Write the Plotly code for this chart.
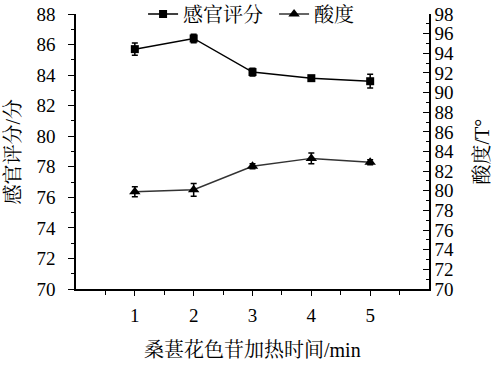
import plotly.graph_objects as go

# Data
heat_time = [1, 2, 3, 4, 5]
sensory_score = [85.7, 86.4, 84.2, 83.8, 83.6]
sensory_err = [0.4, 0.28, 0.25, 0.1, 0.45]
acidity = [79.9, 80.1, 82.5, 83.3, 82.9]
acidity_err = [0.5, 0.65, 0.25, 0.55, 0.25]

x_ticks = [1, 2, 3, 4, 5]
x_minor = [0.5, 1.5, 2.5, 3.5, 4.5, 5.5]

FONT = "Times New Roman, Liberation Serif, Noto Serif CJK SC, Noto Sans CJK SC, serif"

fig = go.Figure()
fig.add_trace(go.Scatter(
    x=heat_time, y=sensory_score, name="感官评分", mode="lines+markers",
    marker=dict(symbol="square", size=8, color="black"),
    line=dict(color="black", width=1.5),
    error_y=dict(type="data", array=sensory_err, color="black", thickness=1.5, width=3),
))
fig.add_trace(go.Scatter(
    x=heat_time, y=acidity, name="酸度", mode="lines+markers", yaxis="y2",
    marker=dict(symbol="triangle-up", size=10, color="black"),
    line=dict(color="#333333", width=1.5),
    error_y=dict(type="data", array=acidity_err, color="black", thickness=1.5, width=3),
))

axis_common = dict(showgrid=False, zeroline=False, showline=True, linecolor="black",
                   linewidth=1.5, tickcolor="black", tickwidth=1.2,
                   tickfont=dict(family=FONT, size=19, color="black"))

fig.update_layout(
    width=496, height=365,
    margin=dict(l=76, r=67, t=14, b=76, autoexpand=False),
    plot_bgcolor="white", paper_bgcolor="white",
    font=dict(family=FONT, color="black"),
    showlegend=True,
    legend=dict(orientation="h", x=0.19, xanchor="left", y=1.0, yanchor="middle",
                bgcolor="rgba(0,0,0,0)", font=dict(family=FONT, size=20),
                itemwidth=30, tracegroupgap=0, entrywidth=86),
    xaxis=dict(range=[0, 6], tickvals=x_ticks, ticks="outside", ticklen=5,
               minor=dict(tickvals=x_minor, ticks="outside", ticklen=4, tickcolor="black"),
               ticklabelstandoff=3, automargin=False, **axis_common),
    yaxis=dict(range=[70, 88], dtick=2, ticks="outside", ticklen=6,
               minor=dict(dtick=1, ticks="outside", ticklen=3, tickcolor="black"),
               ticklabelstandoff=9, automargin=False, **axis_common),
    yaxis2=dict(range=[70, 98], dtick=2, ticks="inside", ticklen=6, overlaying="y", side="right",
                minor=dict(dtick=1, ticks="inside", ticklen=3, tickcolor="black"),
                automargin=False, **axis_common),
    annotations=[
        dict(text="桑葚花色苷加热时间/min", xref="paper", yref="paper", x=0.5, y=0,
             xanchor="center", yanchor="middle",
             yshift=-61, showarrow=False, font=dict(family=FONT, size=20)),
        dict(text="感官评分/分", xref="paper", yref="paper", x=0, y=0.5,
             xanchor="center", yanchor="middle",
             xshift=-64, textangle=-90, showarrow=False, font=dict(family=FONT, size=20)),
        dict(text="酸度/T°", xref="paper", yref="paper", x=1, y=0.5,
             xanchor="center", yanchor="middle",
             xshift=52, textangle=-90, showarrow=False, font=dict(family=FONT, size=20)),
    ],
)

fig.write_html("out.html")
